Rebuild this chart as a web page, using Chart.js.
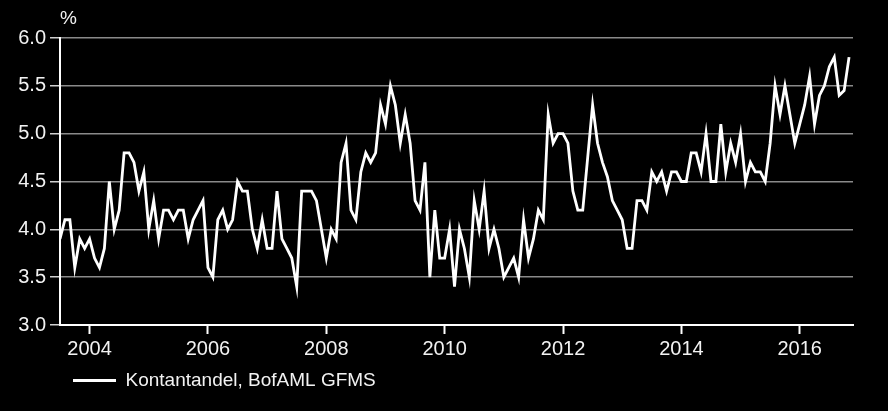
<!DOCTYPE html>
<html>
<head>
<meta charset="utf-8">
<script src="https://cdn.jsdelivr.net/npm/chart.js@4.4.1/dist/chart.umd.min.js"></script>
<style>
    html, body { margin: 0; padding: 0; background: #000; }
    #wrap { width: 888px; height: 411px; }
</style>
</head>
<body>
<div id="wrap"><canvas id="myChart" width="888" height="411"></canvas></div>
<script>
// Monthly cash share, first value is July 2003
const firstYear = 2003;
const firstMonth = 7;
const cash2003 = [3.9, 4.1, 4.1, 3.6, 3.9, 3.8];
const cash2004 = [3.9, 3.7, 3.6, 3.8, 4.5, 4.0, 4.2, 4.8, 4.8, 4.7, 4.4, 4.6];
const cash2005 = [4.0, 4.3, 3.9, 4.2, 4.2, 4.1, 4.2, 4.2, 3.9, 4.1, 4.2, 4.3];
const cash2006 = [3.6, 3.5, 4.1, 4.2, 4.0, 4.1, 4.5, 4.4, 4.4, 4.0, 3.8, 4.1];
const cash2007 = [3.8, 3.8, 4.4, 3.9, 3.8, 3.7, 3.4, 4.4, 4.4, 4.4, 4.3, 4.0];
const cash2008 = [3.7, 4.0, 3.9, 4.7, 4.9, 4.2, 4.1, 4.6, 4.8, 4.7, 4.8, 5.3];
const cash2009 = [5.1, 5.5, 5.3, 4.9, 5.2, 4.9, 4.3, 4.2, 4.7, 3.5, 4.2, 3.7];
const cash2010 = [3.7, 4.0, 3.4, 4.0, 3.8, 3.5, 4.3, 4.0, 4.4, 3.8, 4.0, 3.8];
const cash2011 = [3.5, 3.6, 3.7, 3.5, 4.1, 3.7, 3.9, 4.2, 4.1, 5.2, 4.9, 5.0];
const cash2012 = [5.0, 4.9, 4.4, 4.2, 4.2, 4.75, 5.3, 4.9, 4.7, 4.55, 4.3, 4.2];
const cash2013 = [4.1, 3.8, 3.8, 4.3, 4.3, 4.2, 4.6, 4.5, 4.6, 4.4, 4.6, 4.6];
const cash2014 = [4.5, 4.5, 4.8, 4.8, 4.6, 5.0, 4.5, 4.5, 5.1, 4.6, 4.9, 4.7];
const cash2015 = [5.0, 4.5, 4.7, 4.6, 4.6, 4.5, 4.9, 5.5, 5.2, 5.5, 5.2, 4.9];
const cash2016 = [5.1, 5.3, 5.6, 5.1, 5.4, 5.5, 5.7, 5.8, 5.4, 5.45, 5.8];

const xTicks = [2004, 2006, 2008, 2010, 2012, 2014, 2016];
const yTicks = [3.0, 3.5, 4.0, 4.5, 5.0, 5.5, 6.0];
const seriesLabel = 'Kontantandel, BofAML GFMS';
const unitLabel = '%';

const cashYears = [cash2003, cash2004, cash2005, cash2006, cash2007, cash2008, cash2009,
    cash2010, cash2011, cash2012, cash2013, cash2014, cash2015, cash2016];

const points = [];
cashYears.forEach((vals, i) => {
    const startM = i === 0 ? firstMonth : 1;
    vals.forEach((v, j) => {
        points.push({ x: firstYear + i + (startM - 1 + j) / 12, y: v });
    });
});

const textColor = '#f2f2f2';
const family = "'Liberation Sans', Arial, sans-serif";
const font = { family: family, size: 19 };
const tickFont = { family: family, size: 20 };

// '%' over the y axis, and legend moved under the plot
const extras = {
    id: 'extras',
    beforeDraw(chart) {
        if (chart.legend) {
            chart.legend.left = 63;
            chart.legend.top = 361;
        }
    },
    afterDraw(chart) {
        const c = chart.ctx;
        c.save();
        c.fillStyle = textColor;
        c.font = font.size + 'px ' + font.family;
        c.textBaseline = 'middle';
        c.textAlign = 'left';
        c.fillText(unitLabel, chart.chartArea.left, 19);
        c.restore();
    }
};

const ctx = document.getElementById('myChart').getContext('2d');
const myChart = new Chart(ctx, {
    type: 'line',
    data: {
        datasets: [{
            label: seriesLabel,
            data: points,
            borderColor: '#ffffff',
            backgroundColor: '#ffffff',
            borderWidth: 2.8,
            pointRadius: 0,
            tension: 0,
            fill: false
        }]
    },
    options: {
        responsive: false,
        animation: false,
        layout: { padding: { left: 0, right: 35, top: 38, bottom: 0 } },
        plugins: {
            legend: {
                position: 'bottom',
                align: 'start',
                labels: {
                    color: textColor,
                    font: font,
                    boxWidth: 43,
                    boxHeight: 3,
                    padding: 10,
                    generateLabels: chart => Chart.defaults.plugins.legend.labels.generateLabels(chart)
                        .map(l => Object.assign(l, { lineWidth: 0, fillStyle: '#ffffff' }))
                }
            },
            tooltip: { enabled: false }
        },
        scales: {
            x: {
                type: 'linear',
                min: 2003.5,
                max: 2016.9,
                afterBuildTicks: s => { s.ticks = xTicks.map(v => ({ value: v })); },
                afterFit: s => { s.height = 86 - (s.chart.legend ? s.chart.legend.height : 0); },
                grid: { drawOnChartArea: false, tickLength: 9, tickColor: '#ffffff', tickWidth: 2 },
                border: { color: '#ffffff', width: 2 },
                ticks: { color: textColor, font: tickFont, padding: 3, maxRotation: 0, autoSkip: false,
                    callback: v => String(v) }
            },
            y: {
                min: 3,
                max: 6,
                afterBuildTicks: s => { s.ticks = yTicks.map(v => ({ value: v })); },
                afterFit: s => { s.width = 60; },
                grid: { color: '#8a8a8a', lineWidth: 1.5, tickLength: 10, tickColor: '#d0d0d0' },
                border: { color: '#ffffff', width: 2 },
                ticks: { color: textColor, font: tickFont, padding: 4, callback: v => v.toFixed(1) }
            }
        }
    },
    plugins: [extras]
});
</script>
</body>
</html>
